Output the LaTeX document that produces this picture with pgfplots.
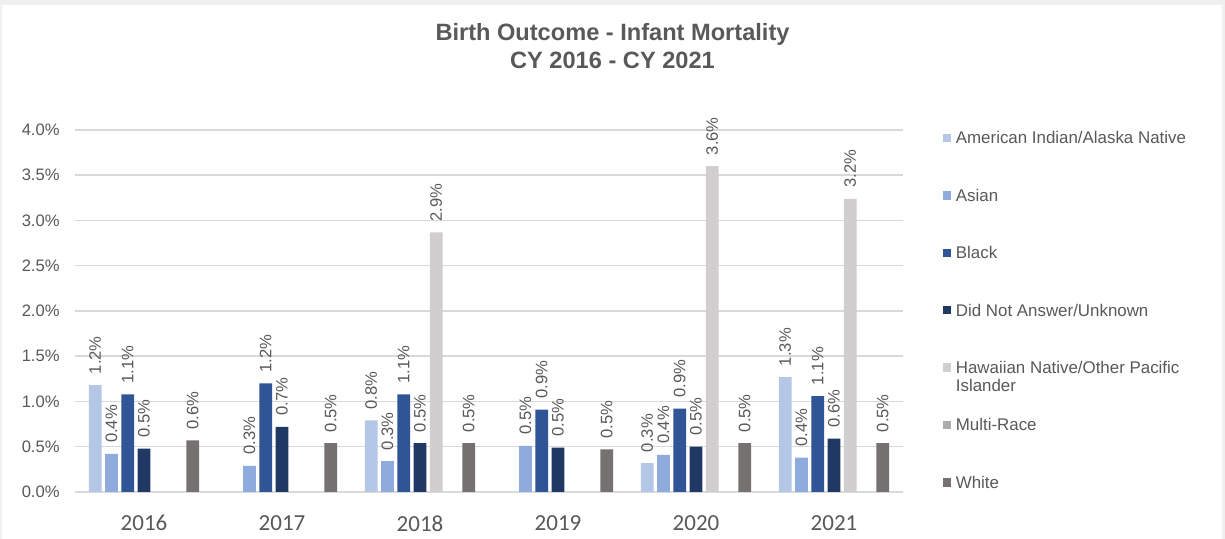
\documentclass[border=0pt]{standalone}
\usepackage{fontspec}
\setmainfont{Liberation Sans}
\newfontfamily\calibri{Carlito}
\usepackage{pgfplots}
\pgfplotsset{compat=1.18}
\definecolor{cAI}{HTML}{B4C7E7}
\definecolor{cAs}{HTML}{8FAADC}
\definecolor{cBl}{HTML}{2F5597}
\definecolor{cDN}{HTML}{203864}
\definecolor{cHa}{HTML}{D0CECE}
\definecolor{cMu}{HTML}{AEABAB}
\definecolor{cWh}{HTML}{767171}
\definecolor{cText}{HTML}{595959}
\definecolor{cGrid}{HTML}{D9D9D9}
\definecolor{cFrame}{HTML}{F0F0F0}
\pgfplotsset{
  leg/.style={legend image code/.code={\fill[##1] (0pt,-2.1pt) rectangle (4.2pt,2.1pt);}},
  mybar/.style={fill=#1, draw=none, leg},
}
\begin{document}
\begin{tikzpicture}
\path[use as bounding box] (0,0) rectangle (612.5pt,269.5pt);
\fill[cFrame] (0,0) rectangle (612.5pt,269.5pt);
\fill[white] (1pt,0) rectangle (611pt,267pt);
\node[font=\bfseries\fontsize{11.8}{14}\selectfont, text=cText, align=center] at (306.25pt,246.5pt) {Birth Outcome - Infant Mortality\\CY 2016 - CY 2021};
\begin{axis}[
  at={(37.5pt,23.5pt)}, anchor=south west,
  scale only axis, width=414pt, height=181pt,
  ybar, bar width=0.092,
  xmin=-0.5, xmax=5.5, ymin=0, ymax=4,
  clip=false,
  xtick={0,1,2,3,4,5},
  xticklabels={2016,2017,2018,2019,2020,2021},
  ytick={0,0.5,1,1.5,2,2.5,3,3.5,4},
  yticklabel={\pgfmathprintnumber[fixed,fixed zerofill,precision=1]{\tick}\%},
  /pgf/number format/assume math mode=true,
  major tick length=0pt,
  axis x line*=bottom,
  axis y line*=left,
  y axis line style={draw=none},
  x axis line style={cGrid, line width=0.75pt},
  ymajorgrids,
  grid style={cGrid, line width=0.75pt},
  yticklabel style={anchor=east, inner sep=0pt, xshift=-7.5pt, font=\fontsize{8.3}{10}\selectfont, text=cText},
  xticklabel style={anchor=north, inner sep=0pt, yshift=-11.5pt, font=\calibri\fontsize{11.5}{13}\selectfont, text=cText},
  nodes near coords={\pgfmathprintnumber[fixed,fixed zerofill,precision=1]{\pgfplotspointmeta}\%},
  nodes near coords style={rotate=90, anchor=west, inner xsep=5.3pt, inner ysep=0pt, font=\fontsize{8.3}{10}\selectfont, text=cText},
  legend cell align=left,
  legend style={at={(1.0483,0.9945)}, anchor=north west, draw=none, fill=none, inner sep=0pt, outer sep=0pt, row sep=22.7pt, column sep=2.25pt, font=\fontsize{8.45}{9.2}\selectfont, text=cText, nodes={inner sep=0pt, text height=6pt, text depth=0pt, anchor=west}},
]
\addplot[mybar=cAI, bar shift=-0.3534] coordinates {(0,1.18) (2,0.79) (4,0.32) (5,1.27)};
\addlegendentry{American Indian/Alaska Native}
\addplot[mybar=cAs, bar shift=-0.2356] coordinates {(0,0.42) (1,0.29) (2,0.34) (3,0.51) (4,0.41) (5,0.38)};
\addlegendentry{Asian}
\addplot[mybar=cBl, bar shift=-0.1178] coordinates {(0,1.08) (1,1.20) (2,1.08) (3,0.91) (4,0.92) (5,1.06)};
\addlegendentry{Black}
\addplot[mybar=cDN, bar shift=0] coordinates {(0,0.48) (1,0.72) (2,0.54) (3,0.49) (4,0.50) (5,0.59)};
\addlegendentry{Did Not Answer/Unknown}
\addplot[mybar=cHa, bar shift=0.1178] coordinates {(2,2.87) (4,3.60) (5,3.24)};
\addlegendentry{\smash{\begin{tabular}[t]{@{}l@{}}Hawaiian Native/Other Pacific\\Islander\end{tabular}}}
\addlegendimage{fill=cMu, draw=none, leg}
\addlegendentry{Multi-Race}
\addplot[mybar=cWh, bar shift=0.3534] coordinates {(0,0.57) (1,0.54) (2,0.54) (3,0.47) (4,0.54) (5,0.54)};
\addlegendentry{White}
\end{axis}
\end{tikzpicture}
\end{document}
